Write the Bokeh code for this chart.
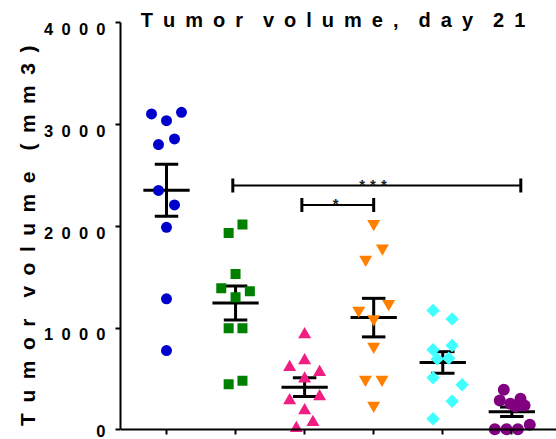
import numpy as np
from bokeh.plotting import figure
from bokeh.models import Range1d, FixedTicker, Label, LinearAxis
from bokeh.embed import file_html
from bokeh.resources import INLINE
from bokeh.core.properties import value

# ---------------- data ----------------
groups = [1, 2, 3, 4, 5, 6]

blue_vals   = [3104, 3038, 3120, 2803, 2859, 2352, 2210, 1990, 1287, 779]
green_vals  = [1935, 2017, 1532, 1391, 1361, 1303, 998, 998, 448, 481]
pink_vals   = [936, 681, 615, 566, 501, 288, 327, 190, 75, 15]
orange_vals = [2024, 1784, 1673, 1172, 1238, 1090, 818, 494, 494, 239]
cyan_vals   = [1172, 1090, 786, 828, 697, 703, 511, 442, 281, 108]
purple_vals = [393, 288, 255, 305, 239, 229, 5, 5, 5, 49]

# horizontal scatter of the points (in category units)
blue_jit   = [-0.217, 0.0, 0.217, -0.116, 0.116, -0.116, 0.116, 0.0, 0.0, 0.0]
green_jit  = [-0.10, 0.10, 0.0, -0.207, 0.207, 0.0, -0.10, 0.10, -0.10, 0.10]
pink_jit   = [0.0, 0.0, -0.217, 0.217, 0.0, -0.217, 0.217, 0.0, 0.12, -0.12]
orange_jit = [0.0, 0.126, -0.116, -0.217, 0.217, 0.0, 0.0, -0.12, 0.12, 0.0]
cyan_jit   = [-0.14, 0.136, -0.14, 0.136, -0.08, 0.087, -0.14, 0.28, 0.136, -0.14]
purple_jit = [-0.116, -0.174, -0.02, 0.126, 0.184, 0.054, -0.246, -0.077, 0.087, 0.26]

y_ticks = [0, 1000, 2000, 3000, 4000]

bracket_x0 = [1.96, 2.96]
bracket_x1 = [6.13, 4.00]
bracket_y = [2400, 2210]
star_x = [3.99, 3.45]
star_text = ["***", "*"]

title_text = "Tumor volume, day 21"
ylabel_text = "Tumor volume (mm3)"

# ---------------- styling ----------------
FONT = "Liberation Sans"
EN = "\u2002"


def spaced(s):
    return (EN * 2).join(EN.join(w) for w in s.split(" "))


series = [
    (blue_vals, blue_jit, "circle", "#0000CC", 11, 0.0),
    (green_vals, green_jit, "square", "#008000", 10, 0.0),
    (pink_vals, pink_jit, "triangle", "#F01E82", 13, 0.0),
    (orange_vals, orange_jit, "inverted_triangle", "#FF8000", 13, 0.0),
    (cyan_vals, cyan_jit, "square", "#40FFFF", 9.5, np.pi / 4),
    (purple_vals, purple_jit, "circle", "#800080", 12, 0.0),
]

p = figure(width=556, height=439,
           x_range=Range1d(0.334, 6.647), y_range=Range1d(-95.3, 4219.1),
           output_backend="svg", toolbar_location=None, title=None,
           min_border_left=120, min_border_right=0,
           min_border_top=0, min_border_bottom=0)
p.xgrid.visible = False
p.ygrid.visible = False
p.outline_line_color = None
p.background_fill_color = "white"
p.border_fill_color = "white"

# x axis: ticks only, at y = 0
xa = p.xaxis[0]
xa.ticker = FixedTicker(ticks=groups)
xa.fixed_location = 0
xa.major_label_text_color = None
xa.major_label_text_font_size = "1px"
xa.major_label_standoff = 0
xa.major_tick_out = 5
xa.major_tick_in = 0
xa.minor_tick_line_color = None
xa.axis_line_width = 2
xa.major_tick_line_width = 2

# y axis: line + ticks
ya = p.yaxis[0]
ya.ticker = FixedTicker(ticks=y_ticks)
ya.bounds = (0, 4000)
ya.major_label_text_color = None
ya.major_label_text_font_size = "1px"
ya.major_label_standoff = 0
ya.major_tick_out = 5
ya.major_tick_in = 0
ya.minor_tick_line_color = None
ya.axis_line_width = 2
ya.major_tick_line_width = 2

# labels axis (labels sit just below their tick, as in the reference)
shift = 62
lab_axis = LinearAxis(ticker=FixedTicker(ticks=[t - shift for t in y_ticks]),
                      major_label_overrides={t - shift: spaced(str(t)) for t in y_ticks})
lab_axis.axis_line_color = None
lab_axis.major_tick_line_color = None
lab_axis.minor_tick_line_color = None
lab_axis.major_tick_out = 0
lab_axis.major_tick_in = 0
lab_axis.major_label_standoff = 10
lab_axis.major_label_text_font = FONT
lab_axis.major_label_text_font_style = "bold"
lab_axis.major_label_text_font_size = "16.5px"
lab_axis.major_label_text_color = "black"
lab_axis.axis_label = spaced(ylabel_text) + EN * 3
lab_axis.axis_label_text_font = FONT
lab_axis.axis_label_text_font_style = "bold"
lab_axis.axis_label_text_font_size = "21px"
lab_axis.axis_label_text_color = "black"
lab_axis.axis_label_standoff = 2
p.add_layout(lab_axis, "left")

# mean +/- SEM
means = [float(np.mean(s[0])) for s in series]
sems = [float(np.std(s[0], ddof=1) / np.sqrt(len(s[0]))) for s in series]
g = np.array(groups, dtype=float)
m = np.array(means)
e = np.array(sems)
HW, CW = 0.335, 0.17
p.segment(x0=g - HW, x1=g + HW, y0=m, y1=m, line_color="black", line_width=3)
p.segment(x0=g, x1=g, y0=m - e, y1=m + e, line_color="black", line_width=3)
p.segment(x0=g - CW, x1=g + CW, y0=m + e, y1=m + e, line_color="black", line_width=3)
p.segment(x0=g - CW, x1=g + CW, y0=m - e, y1=m - e, line_color="black", line_width=3)

# points
for (vals, jit, marker, color, size, ang), gi in zip(series, groups):
    xs = [gi + j for j in jit]
    p.scatter(x=xs, y=vals, marker=marker, size=size, angle=ang,
              fill_color=color, line_color=None)

# significance brackets
bx0 = np.array(bracket_x0)
bx1 = np.array(bracket_x1)
by = np.array(bracket_y)
CAP = 69
p.segment(x0=bx0, x1=bx1, y0=by, y1=by, line_color="black", line_width=2)
p.segment(x0=np.concatenate([bx0, bx1]), x1=np.concatenate([bx0, bx1]),
          y0=np.concatenate([by, by]) - CAP, y1=np.concatenate([by, by]) + CAP,
          line_color="black", line_width=3)
p.text(x=star_x, y=bracket_y, text=["\u2004".join(s) for s in star_text],
       text_align="center", text_baseline="alphabetic", y_offset=-1,
       text_font=value(FONT), text_font_style="bold", text_font_size="15px",
       text_color="#222222")

# title
p.add_layout(Label(x=3.411, y=4026, text=spaced(title_text),
                   text_align="center", text_baseline="alphabetic",
                   text_font=FONT, text_font_style="bold",
                   text_font_size="20px", text_color="black"))

open("out.html", "w").write(file_html(p, INLINE))
